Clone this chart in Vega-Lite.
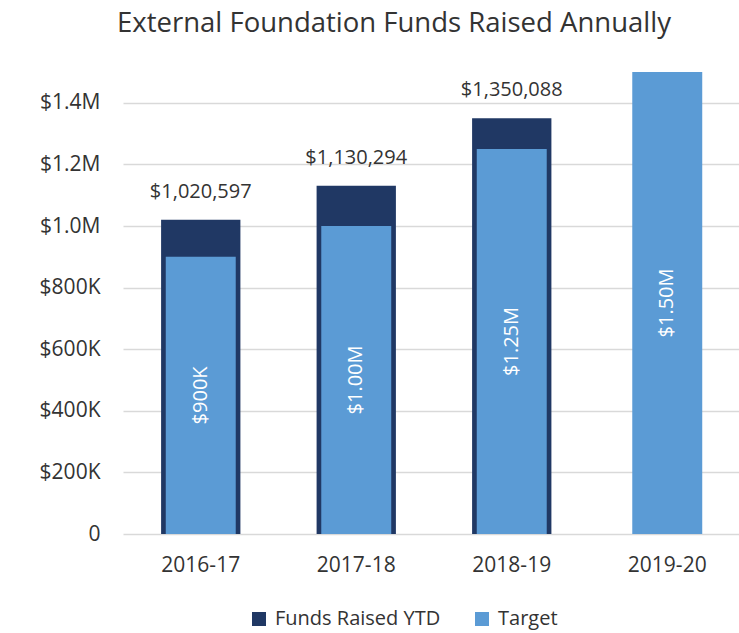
{
  "$schema": "https://vega.github.io/schema/vega-lite/v6.json",
  "autosize": {"type": "none"},
  "padding": {"left": 123, "top": 72, "right": 0, "bottom": 99},
  "width": 622,
  "height": 462,
  "background": "white",
  "title": {
    "text": "External Foundation Funds Raised Annually",
    "font": "Open Sans",
    "fontSize": 27.5,
    "fontWeight": "normal",
    "color": "#333333",
    "anchor": "middle",
    "dx": -40,
    "offset": 35
  },
  "config": {
    "font": "Open Sans",
    "view": {"stroke": null}
  },
  "data": {
    "values": [
      {"year": "2016-17", "raised": 1020597, "target": 900000},
      {"year": "2017-18", "raised": 1130294, "target": 1000000},
      {"year": "2018-19", "raised": 1350088, "target": 1250000},
      {"year": "2019-20", "raised": null, "target": 1500000}
    ]
  },
  "transform": [
    {"calculate": "datum.target / 2", "as": "mid"},
    {"calculate": "datum.target < 1000000 ? '$' + format(datum.target / 1000, 'd') + 'K' : '$' + format(datum.target / 1000000, '.2f') + 'M'", "as": "target_label"}
  ],
  "encoding": {
    "x": {
      "field": "year",
      "type": "ordinal",
      "scale": {"paddingInner": 0, "paddingOuter": 0},
      "axis": {
        "title": null,
        "domain": false,
        "ticks": false,
        "labelAngle": 0,
        "labelFontSize": 21,
        "labelColor": "#333333",
        "labelPadding": 20
      }
    }
  },
  "layer": [
    {
      "mark": {"type": "bar", "width": {"band": 0.51}},
      "encoding": {
        "y": {
          "field": "raised",
          "type": "quantitative",
          "scale": {"domain": [0, 1500000], "nice": false, "zero": true},
          "axis": {
            "title": null,
            "domain": false,
            "ticks": false,
            "values": [0, 200000, 400000, 600000, 800000, 1000000, 1200000, 1400000],
            "labelExpr": "datum.value == 0 ? '0' : (datum.value >= 1000000 ? '$' + format(datum.value / 1000000, '.1f') + 'M' : '$' + format(datum.value / 1000, 'd') + 'K')",
            "labelFontSize": 21,
            "labelColor": "#333333",
            "labelPadding": 23,
            "grid": true,
            "gridColor": "#D9D9D9",
            "gridWidth": 1.5
          }
        },
        "color": {
          "datum": "Funds Raised YTD",
          "type": "nominal",
          "scale": {"domain": ["Funds Raised YTD", "Target"], "range": ["#203864", "#5B9BD5"]},
          "legend": {
            "title": null,
            "orient": "none",
            "direction": "horizontal",
            "legendX": 126,
            "legendY": 537,
            "symbolType": "square",
            "symbolSize": 196,
            "symbolStrokeWidth": 0,
            "labelFontSize": 20,
            "labelColor": "#333333",
            "labelOffset": 6,
            "labelLimit": 0,
            "columnPadding": 31,
            "padding": 0
          }
        }
      }
    },
    {
      "mark": {"type": "bar", "width": {"band": 0.45}},
      "encoding": {
        "y": {"field": "target", "type": "quantitative"},
        "color": {"datum": "Target", "type": "nominal"}
      }
    },
    {
      "mark": {"type": "text", "baseline": "alphabetic", "dy": -22, "fontSize": 20, "color": "#333333"},
      "encoding": {
        "y": {"field": "raised", "type": "quantitative"},
        "text": {"field": "raised", "type": "quantitative", "format": "$,.0f"}
      }
    },
    {
      "mark": {"type": "text", "angle": 270, "baseline": "middle", "align": "center", "fontSize": 20, "color": "white"},
      "encoding": {
        "y": {"field": "mid", "type": "quantitative"},
        "text": {"field": "target_label", "type": "nominal"}
      }
    }
  ]
}
